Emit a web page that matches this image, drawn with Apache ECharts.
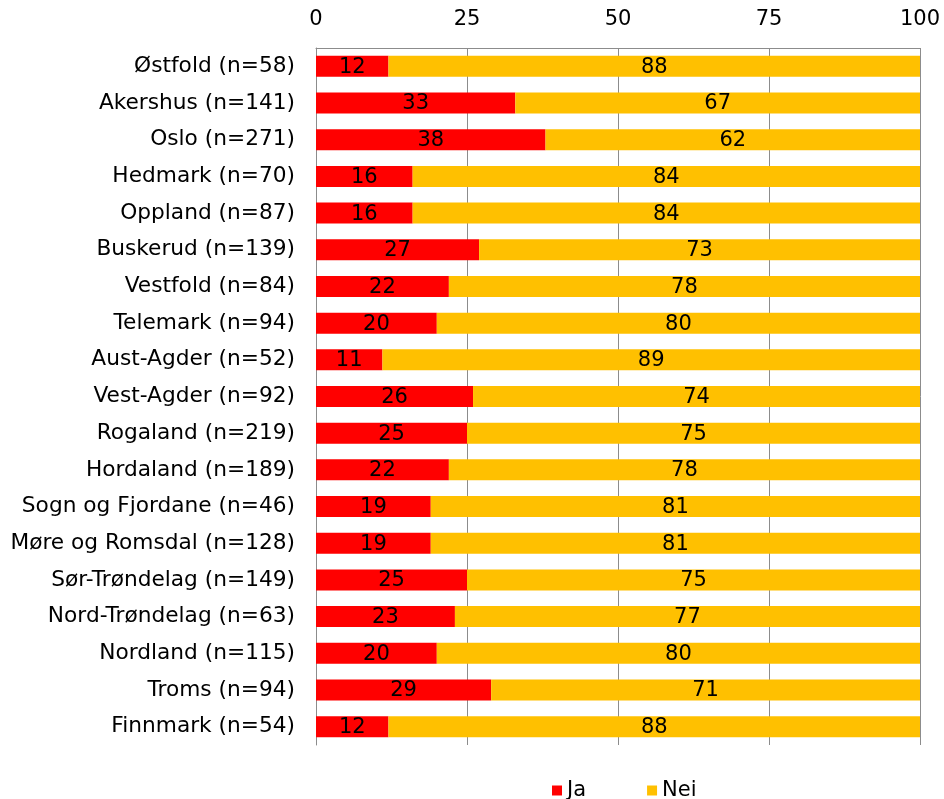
<!DOCTYPE html>
<html>
<head>
<meta charset="utf-8">
<script src="https://cdn.jsdelivr.net/npm/echarts@6/dist/echarts.min.js"></script>
<style>
  html, body { margin: 0; padding: 0; background: #fff; }
  #chart { width: 944px; height: 799px; }
</style>
</head>
<body>
<div id="chart"></div>
<script>
// Fylker, top to bottom
const categories = [
  'Østfold (n=58)', 'Akershus (n=141)', 'Oslo (n=271)', 'Hedmark (n=70)',
  'Oppland (n=87)', 'Buskerud (n=139)', 'Vestfold (n=84)', 'Telemark (n=94)',
  'Aust-Agder (n=52)', 'Vest-Agder (n=92)', 'Rogaland (n=219)', 'Hordaland (n=189)',
  'Sogn og Fjordane (n=46)', 'Møre og Romsdal (n=128)', 'Sør-Trøndelag (n=149)',
  'Nord-Trøndelag (n=63)', 'Nordland (n=115)', 'Troms (n=94)', 'Finnmark (n=54)'
];
const jaValues  = [12, 33, 38, 16, 16, 27, 22, 20, 11, 26, 25, 22, 19, 19, 25, 23, 20, 29, 12];
const neiValues = [88, 67, 62, 84, 84, 73, 78, 80, 89, 74, 75, 78, 81, 81, 75, 77, 80, 71, 88];
const xTicks = [0, 25, 50, 75, 100];

const FONT = 'DejaVu Sans';
const FS = 21;
const chart = echarts.init(document.getElementById('chart'));

const labelStyle = {
  show: true,
  position: 'inside',
  offset: [0, 1],
  color: '#000',
  fontFamily: FONT,
  fontSize: FS
};

chart.setOption({
  animation: false,
  textStyle: { fontFamily: FONT },
  grid: { left: 316, right: 24, top: 48, bottom: 54, containLabel: false },
  xAxis: {
    type: 'value',
    position: 'top',
    min: xTicks[0],
    max: xTicks[xTicks.length - 1],
    interval: 25,
    axisLine: { show: true, lineStyle: { color: '#8c8c8c', width: 1 } },
    axisTick: { show: false },
    axisLabel: { color: '#000', fontFamily: FONT, fontSize: FS, margin: 18 },
    splitLine: { show: true, lineStyle: { color: '#8c8c8c', width: 1 } }
  },
  yAxis: {
    type: 'category',
    inverse: true,
    data: categories,
    axisLine: { show: true, lineStyle: { color: '#8c8c8c', width: 1 } },
    axisTick: { show: false },
    axisLabel: { color: '#000', fontFamily: FONT, fontSize: 21.7, margin: 21 }
  },
  legend: {
    top: 780,
    left: 552,
    padding: 0,
    itemWidth: 10,
    itemHeight: 10,
    itemGap: 61,
    itemStyle: { borderWidth: 0 },
    icon: 'rect',
    textStyle: { color: '#000', fontFamily: FONT, fontSize: FS },
    data: ['Ja', 'Nei']
  },
  series: [
    {
      name: 'Ja', type: 'bar', stack: 'total', barWidth: 21,
      itemStyle: { color: '#FF0000' },
      label: labelStyle,
      data: jaValues
    },
    {
      name: 'Nei', type: 'bar', stack: 'total', barWidth: 21,
      itemStyle: { color: '#FFC000' },
      label: labelStyle,
      data: neiValues
    }
  ]
});
</script>
</body>
</html>
